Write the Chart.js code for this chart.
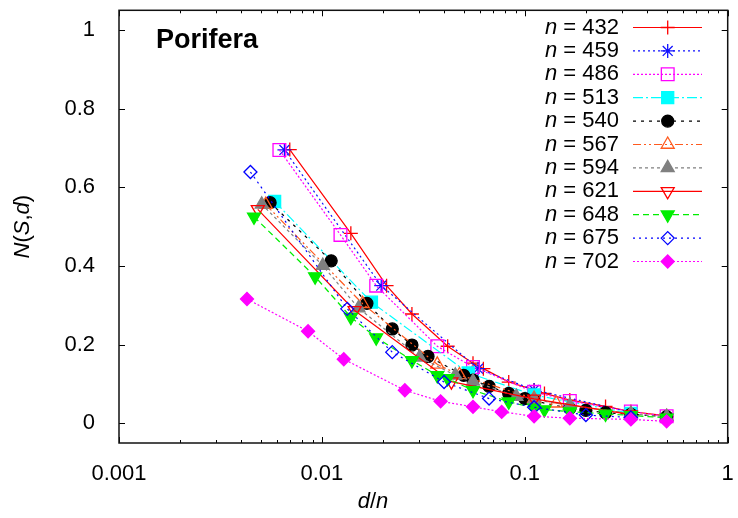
<!DOCTYPE html>
<html>
<head>
<meta charset="utf-8">
<script src="https://cdn.jsdelivr.net/npm/chart.js@4.4.1/dist/chart.umd.min.js"></script>
<style>
  html, body { margin: 0; padding: 0; background: #fff; }
  canvas { display: block; }
</style>
</head>
<body>
<canvas id="grafico" width="738" height="518"></canvas>
<script>
// Longitudes de secuencia (una serie por cada n)
const nValues = [432, 459, 486, 513, 540, 567, 594, 621, 648, 675, 702];

// Distancias d de cada serie (x = d/n) y valores N(S,d)
const d432 = [3, 6, 9, 12, 18, 24, 27, 36, 48, 54, 72, 108, 144, 216];
const y432 = [0.696, 0.483, 0.350, 0.278, 0.196, 0.153, 0.139, 0.105, 0.085, 0.076, 0.059, 0.043, 0.030, 0.019];

const d459 = [3, 9, 27, 51, 153];
const y459 = [0.695, 0.350, 0.139, 0.085, 0.028];

const d486 = [3, 6, 9, 18, 27, 54, 81, 162, 243];
const y486 = [0.695, 0.479, 0.350, 0.196, 0.143, 0.080, 0.057, 0.030, 0.018];

const d513 = [3, 9, 27, 57, 171];
const y513 = [0.564, 0.308, 0.128, 0.072, 0.025];

const d540 = [3, 6, 9, 12, 15, 18, 27, 30, 36, 45, 54, 60, 90, 108, 135, 180, 270];
const y540 = [0.561, 0.413, 0.305, 0.240, 0.199, 0.170, 0.122, 0.110, 0.094, 0.076, 0.063, 0.057, 0.038, 0.033, 0.027, 0.023, 0.017];

const d567 = [3, 9, 21, 27, 63, 81, 189];
const y567 = [0.556, 0.304, 0.150, 0.123, 0.063, 0.051, 0.024];

const d594 = [3, 6, 9, 18, 27, 33, 54, 66, 99, 198, 297];
const y594 = [0.557, 0.401, 0.293, 0.168, 0.122, 0.107, 0.068, 0.060, 0.046, 0.024, 0.017];

const d621 = [3, 9, 27, 69, 207];
const y621 = [0.544, 0.287, 0.106, 0.062, 0.022];

const d648 = [3, 6, 9, 12, 18, 24, 27, 36, 54, 72, 81, 108, 162, 216, 324];
const y648 = [0.525, 0.373, 0.270, 0.218, 0.160, 0.122, 0.114, 0.084, 0.055, 0.039, 0.035, 0.030, 0.024, 0.020, 0.014];

const d675 = [3, 9, 15, 27, 45, 75, 135, 225];
const y675 = [0.639, 0.291, 0.181, 0.105, 0.063, 0.041, 0.021, 0.015];

const d702 = [3, 6, 9, 18, 27, 39, 54, 78, 117, 234, 351];
const y702 = [0.316, 0.234, 0.163, 0.084, 0.056, 0.042, 0.029, 0.018, 0.013, 0.010, 0.005];

const dLists = [d432, d459, d486, d513, d540, d567, d594, d621, d648, d675, d702];
const yLists = [y432, y459, y486, y513, y540, y567, y594, y621, y648, y675, y702];

// Marcas de los ejes
const xMajor = [0.001, 0.01, 0.1, 1];
const xLabels = ['0.001', '0.01', '0.1', '1'];
const yMajor = [0, 0.2, 0.4, 0.6, 0.8, 1];
const yLabels = ['0', '0.2', '0.4', '0.6', '0.8', '1'];

const FUENTE = '"Liberation Sans", Arial, sans-serif';

// Estilo de cada serie (estilo tipo gnuplot)
const estilos = [
  { color: '#ff0000', dash: [], shape: 'cross', rot: 0, r: 7, filled: false },
  { color: '#1010ff', dash: [2, 3], shape: 'star', rot: 0, r: 7, filled: false },
  { color: '#ff00ff', dash: [2, 2], shape: 'rect', rot: 0, r: 9, filled: false },
  { color: '#00ffff', dash: [10, 3, 2, 3], shape: 'rect', rot: 0, r: 8.5, filled: true },
  { color: '#000000', dash: [3, 5], shape: 'circle', rot: 0, r: 6, filled: true },
  { color: '#ff5a1e', dash: [8, 3, 2, 3, 2, 3], shape: 'triangle', rot: 0, r: 7.5, filled: false },
  { color: '#808080', dash: [3, 3], shape: 'triangle', rot: 0, r: 7.5, filled: true },
  { color: '#ff0000', dash: [], shape: 'triangle', rot: 180, r: 7.5, filled: false },
  { color: '#00ee00', dash: [6, 4], shape: 'triangle', rot: 180, r: 7.5, filled: true },
  { color: '#0000ff', dash: [2, 4], shape: 'rectRot', rot: 0, r: 6.5, filled: false },
  { color: '#ff00ff', dash: [2, 2], shape: 'rectRot', rot: 0, r: 6.5, filled: true }
];

const datasets = nValues.map((n, i) => {
  const s = estilos[i];
  return {
    label: 'n = ' + n,
    data: dLists[i].map((d, k) => ({ x: d / n, y: yLists[i][k] })),
    borderColor: s.color,
    borderWidth: 1.2,
    borderDash: s.dash,
    pointStyle: s.shape,
    pointRotation: s.rot,
    pointRadius: s.r,
    pointBorderColor: s.color,
    pointBackgroundColor: s.filled ? s.color : 'rgba(0,0,0,0)',
    pointBorderWidth: 1.3,
    tension: 0,
    fill: false,
    order: nValues.length - i // la ultima serie queda encima
  };
});

// Marco y marcas hacia dentro en los cuatro lados
const marco = {
  id: 'marco',
  afterDatasetsDraw(chart) {
    const { ctx, chartArea: a, scales: { x, y } } = chart;
    ctx.save();
    ctx.strokeStyle = '#000';
    ctx.lineWidth = 1;
    ctx.beginPath();
    for (let e = -3; e <= 0; e++) {
      for (let m = 1; m <= 9; m++) {
        const v = m * Math.pow(10, e);
        if (v > 1.0001) break;
        const px = Math.round(x.getPixelForValue(v)) + 0.5;
        const len = m === 1 ? 6 : 3;
        ctx.moveTo(px, a.bottom); ctx.lineTo(px, a.bottom - len);
        ctx.moveTo(px, a.top); ctx.lineTo(px, a.top + len);
      }
    }
    yMajor.forEach(v => {
      const py = Math.round(y.getPixelForValue(v)) + 0.5;
      ctx.moveTo(a.left, py); ctx.lineTo(a.left + 6, py);
      ctx.moveTo(a.right, py); ctx.lineTo(a.right - 6, py);
    });
    ctx.stroke();
    ctx.lineWidth = 1.5;
    ctx.strokeStyle = '#111';
    ctx.strokeRect(a.left, a.top, a.right - a.left, a.bottom - a.top);
    ctx.restore();
  }
};

// Texto con partes en cursiva
function textoMixto(ctx, partes, size) {
  let total = 0;
  partes.forEach(p => {
    ctx.font = (p[1] ? 'italic ' : '') + size + 'px ' + FUENTE;
    total += ctx.measureText(p[0]).width;
  });
  let xx = -total / 2;
  partes.forEach(p => {
    ctx.font = (p[1] ? 'italic ' : '') + size + 'px ' + FUENTE;
    ctx.fillText(p[0], xx, 0);
    xx += ctx.measureText(p[0]).width;
  });
}

// Leyenda, titulo del panel y titulos de ejes
const textos = {
  id: 'textos',
  afterDraw(chart) {
    const { ctx, chartArea: a } = chart;
    ctx.save();
    ctx.fillStyle = '#000';
    ctx.textAlign = 'left';

    // titulo del panel
    ctx.font = 'bold 27px ' + FUENTE;
    ctx.textBaseline = 'alphabetic';
    ctx.fillText('Porifera', 156, 48);

    // eje x
    ctx.save();
    ctx.translate(373, 508);
    textoMixto(ctx, [['d', true], ['/', false], ['n', true]], 22);
    ctx.restore();

    // eje y
    ctx.save();
    ctx.translate(23, (a.top + a.bottom) / 2);
    ctx.rotate(-Math.PI / 2);
    ctx.textBaseline = 'middle';
    textoMixto(ctx, [['N', true], ['(', false], ['S', true], [',', false], ['d', true], [')', false]], 22);
    ctx.restore();

    // leyenda
    chart.data.datasets.forEach((ds, i) => {
      const yy = 27.5 + i * 23.4;
      ctx.save();
      ctx.textBaseline = 'middle';
      ctx.textAlign = 'right';
      ctx.fillStyle = '#000';
      ctx.font = '22px ' + FUENTE;
      const resto = ' = ' + nValues[i];
      const w = ctx.measureText(resto).width;
      ctx.fillText(resto, 619, yy);
      ctx.font = 'italic 22px ' + FUENTE;
      ctx.fillText('n', 619 - w, yy);

      ctx.strokeStyle = ds.borderColor;
      ctx.lineWidth = ds.borderWidth;
      ctx.setLineDash(ds.borderDash);
      ctx.beginPath();
      ctx.moveTo(633, yy);
      ctx.lineTo(702, yy);
      ctx.stroke();
      ctx.setLineDash([]);

      ctx.fillStyle = ds.pointBackgroundColor;
      ctx.strokeStyle = ds.pointBorderColor;
      ctx.lineWidth = ds.pointBorderWidth;
      Chart.helpers.drawPoint(ctx, {
        pointStyle: ds.pointStyle,
        rotation: ds.pointRotation,
        radius: ds.pointRadius,
        borderWidth: ds.pointBorderWidth
      }, 667.7, yy);
      ctx.restore();
    });
    ctx.restore();
  }
};

function sinPadding(scale) {
  scale.paddingTop = 0;
  scale.paddingBottom = 0;
  scale.paddingLeft = 0;
  scale.paddingRight = 0;
}

new Chart(document.getElementById('grafico'), {
  type: 'line',
  data: { datasets },
  options: {
    responsive: false,
    animation: false,
    devicePixelRatio: 1,
    events: [],
    layout: { padding: { top: 9, right: 9, left: 0, bottom: 0 } },
    plugins: {
      legend: { display: false },
      tooltip: { enabled: false }
    },
    scales: {
      x: {
        type: 'logarithmic',
        min: 0.001,
        max: 1,
        grid: { display: false },
        border: { display: false },
        afterBuildTicks: scale => { scale.ticks = xMajor.map(v => ({ value: v })); },
        afterFit: scale => { scale.height = 75; sinPadding(scale); },
        ticks: {
          autoSkip: false,
          maxRotation: 0,
          padding: 10,
          color: '#000',
          font: { family: FUENTE, size: 22 },
          callback: v => xLabels[xMajor.indexOf(v)]
        }
      },
      y: {
        min: -0.05,
        max: 1.05,
        grid: { display: false },
        border: { display: false },
        afterBuildTicks: scale => { scale.ticks = yMajor.map(v => ({ value: v })); },
        afterFit: scale => { scale.width = 119; sinPadding(scale); },
        ticks: {
          padding: 16,
          color: '#000',
          font: { family: FUENTE, size: 22 },
          callback: v => yLabels[yMajor.indexOf(v)]
        }
      }
    }
  },
  plugins: [marco, textos]
});
</script>
</body>
</html>
